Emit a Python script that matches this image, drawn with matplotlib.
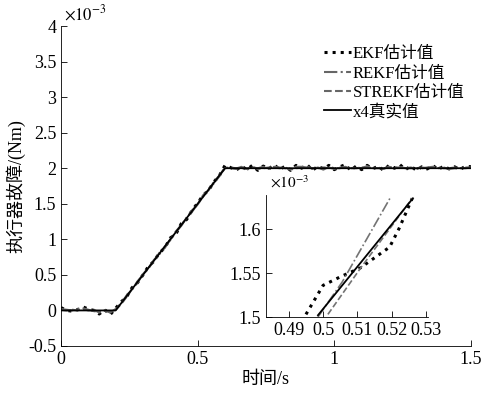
import numpy as np
import matplotlib.pyplot as plt

plt.rcParams['font.family'] = ['Liberation Serif', 'Noto Sans CJK SC']
plt.rcParams['mathtext.fontset'] = 'stix'

# time axis of the main plot (s), values in 1e-3 Nm
t = np.linspace(0, 1.5, 76)
x4_t = [0, 0.2, 0.6, 1.5]
x4_v = [0, 0, 2.0, 2.0]
ekf = [0.04, 0.00, -0.01, 0.01, 0.05, 0.02, 0.00, -0.05, 0.01, -0.06,
       0.03, 0.12, 0.19, 0.32, 0.39, 0.50, 0.62, 0.69, 0.81, 0.88,
       1.02, 1.07, 1.22, 1.28, 1.41, 1.51, 1.62, 1.69, 1.81, 1.90,
       2.04, 2.01, 1.97, 2.03, 1.98, 2.04, 1.97, 2.03, 1.99, 2.05,
       1.98, 2.03, 1.97, 2.04, 2.00, 2.05, 1.97, 2.03, 1.99, 2.04,
       1.98, 2.02, 2.05, 1.97, 2.03, 1.98, 2.04, 1.99, 2.03, 1.97,
       2.04, 2.00, 2.05, 1.98, 2.03, 1.97, 2.02, 1.99, 2.04, 1.98,
       2.03, 1.99, 2.02, 1.98, 2.03, 2.02]
rekf = [0.02, 0.01, 0.00, 0.02, 0.03, 0.01, -0.01, -0.02, 0.00, -0.03,
        0.02, 0.10, 0.21, 0.29, 0.41, 0.50, 0.59, 0.71, 0.79, 0.90,
        0.99, 1.10, 1.19, 1.31, 1.39, 1.50, 1.62, 1.69, 1.81, 1.90,
        2.01, 2.00, 1.99, 2.02, 1.98, 2.01, 2.00, 2.02, 1.99, 2.02,
        2.01, 2.00, 1.99, 2.02, 2.02, 2.01, 1.99, 2.01, 1.98, 2.02,
        2.00, 2.00, 2.02, 1.99, 2.01, 2.00, 2.03, 1.99, 2.01, 1.99,
        2.02, 2.00, 2.02, 2.00, 2.01, 1.99, 2.00, 2.01, 2.02, 2.00,
        2.01, 1.99, 2.00, 2.00, 2.01, 2.01]
strekf = [0.01, 0.00, 0.01, 0.00, 0.02, 0.00, 0.01, -0.03, 0.00, -0.02,
          0.01, 0.09, 0.19, 0.30, 0.39, 0.51, 0.60, 0.69, 0.81, 0.88,
          1.00, 1.11, 1.20, 1.30, 1.41, 1.49, 1.60, 1.71, 1.79, 1.89,
          2.00, 2.01, 2.00, 2.00, 1.99, 2.02, 1.99, 2.00, 2.01, 2.01,
          2.00, 2.01, 1.98, 2.00, 2.01, 2.02, 2.00, 2.00, 2.01, 2.01,
          1.99, 2.01, 2.01, 2.00, 2.00, 2.01, 2.01, 2.00, 2.00, 2.00,
          2.01, 2.01, 2.01, 2.00, 2.00, 2.00, 2.01, 2.00, 2.01, 2.01,
          2.00, 2.00, 2.01, 2.00, 2.00, 2.01]

# zoomed region values
in_x4_t = [0.4985, 0.5262]
in_x4_v = [1.502, 1.635]
in_ekf_t = [0.495, 0.500, 0.5055, 0.5108, 0.5194, 0.5222, 0.526]
in_ekf_v = [1.503, 1.536, 1.5466, 1.5557, 1.5795, 1.601, 1.635]
in_rekf_t = [0.4985, 0.5056, 0.5195]
in_rekf_v = [1.500, 1.540, 1.635]
in_strekf_t = [0.5014, 0.511, 0.526]
in_strekf_v = [1.503, 1.556, 1.635]

labels = ['EKF估计值', 'REKF估计值', 'STREKF估计值', 'x4真实值']

fig = plt.figure(figsize=(4.86, 3.97), dpi=100)
ax = fig.add_axes([0.1255, 0.1285, 0.8436, 0.806])
l1, = ax.plot(t, ekf, color='k', ls=':', lw=2.2)
l2, = ax.plot(t, rekf, color='0.4', ls='-.', lw=1.5)
l3, = ax.plot(t, strekf, color='0.4', ls='--', lw=1.5)
l4, = ax.plot(x4_t, x4_v, color='k', ls='-', lw=1.3)
ax.set_xlim(0, 1.5)
ax.set_ylim(-0.5, 4)
ax.set_xticks([0, 0.5, 1, 1.5])
ax.set_yticks(np.arange(-0.5, 4.01, 0.5))
ax.xaxis.set_major_formatter(plt.FormatStrFormatter('%g'))
ax.yaxis.set_major_formatter(plt.FormatStrFormatter('%g'))
ax.tick_params(direction='in', length=4, labelsize=13, width=0.6)
ax.spines['top'].set_visible(False)
ax.spines['right'].set_visible(False)
for s in ['left', 'bottom']:
    ax.spines[s].set_linewidth(0.6)
ax.set_xlabel('时间/s', fontsize=13, labelpad=2)
ax.set_ylabel('执行器故障/(Nm)', fontsize=13, labelpad=2)
fig.text(64/486, 1-14/397, r'$\times10^{-3}$', fontsize=12, va='center')

fig.legend([l1, l2, l3, l4], labels, loc='upper left', frameon=False,
           bbox_to_anchor=(316/486, 1-38/397), bbox_transform=fig.transFigure,
           fontsize=12, handlelength=1.6, handletextpad=0.1,
           labelspacing=0.2, borderpad=0)

ins = fig.add_axes([0.547, 0.2015, 0.333, 0.307])
ins.plot(in_ekf_t, in_ekf_v, color='k', ls=':', lw=2.2)
ins.plot(in_rekf_t, in_rekf_v, color='0.45', ls='-.', lw=1.2)
ins.plot(in_strekf_t, in_strekf_v, color='0.45', ls='--', lw=1.2)
ins.plot(in_x4_t, in_x4_v, color='k', ls='-', lw=1.3)
ins.set_xlim(0.4833, 0.5305)
ins.set_ylim(1.5, 1.6386)
ins.set_xticks([0.49, 0.5, 0.51, 0.52, 0.53])
ins.set_yticks([1.5, 1.55, 1.6])
ins.xaxis.set_major_formatter(plt.FormatStrFormatter('%g'))
ins.yaxis.set_major_formatter(plt.FormatStrFormatter('%g'))
ins.tick_params(direction='in', length=4, labelsize=13, width=0.6)
ins.spines['top'].set_visible(False)
ins.spines['right'].set_visible(False)
for s in ['left', 'bottom']:
    ins.spines[s].set_linewidth(0.6)
fig.text(270/486, 1-182/397, r'$\times10^{-3}$', fontsize=11, va='center')

fig.savefig('out.png', dpi=100)
